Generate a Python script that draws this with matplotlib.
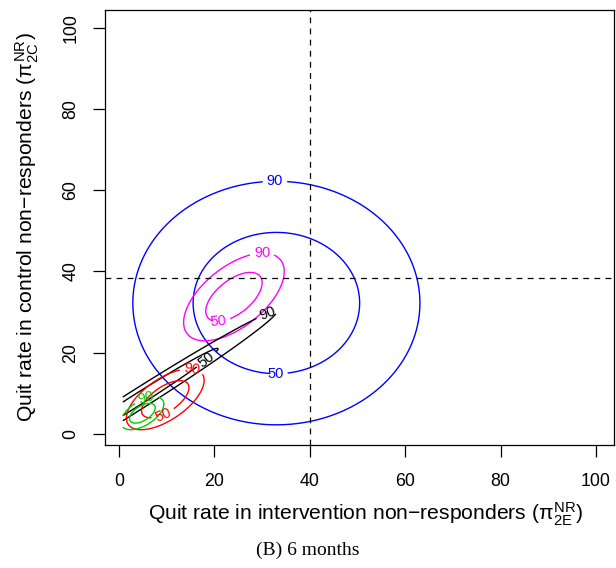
import numpy as np
import matplotlib
matplotlib.use("Agg")
import matplotlib.pyplot as plt

plt.rcParams['font.family'] = ['Liberation Sans', 'DejaVu Sans']
plt.rcParams['mathtext.fontset'] = 'custom'
plt.rcParams['mathtext.rm'] = 'Liberation Sans'
plt.rcParams['mathtext.it'] = 'Liberation Sans'
plt.rcParams['mathtext.bf'] = 'Liberation Sans:bold'
plt.rcParams['lines.scale_dashes'] = False

# ---- data ----
groups = ["blue", "magenta", "black", "red", "green"]
colors = ["#0000FF", "#FF00FF", "#000000", "#FF0000", "#00CD00"]
center_x = [33.0, 24.1, 3.8, 9.7, 4.9]
center_y = [32.2, 33.7, 8.35, 8.5, 5.05]
spread_x = [30.1, 10.55, 29.3, 8.15, 4.5]    # half-extent of 90% region
spread_y = [30.0, 10.8, 21.9, 7.5, 4.05]
corr = [0.0, 0.58, 0.991, 0.62, 0.55]
ratio50 = [0.58, 0.56, 0.58, 0.61, 0.60]     # size of 50% region relative to 90%
label_pos = [
    [(32.7, 62.0), (32.8, 14.5)],
    [(30.0, 44.1), (20.8, 29.0)],
    [(31.3, 29.3), (18.0, 18.8)],
    [(15.2, 14.9), (9.2, 4.9)],
    [(5.8, 8.1)],
]
ref_x = 40
ref_y = 38.4
ticks = [0, 20, 40, 60, 80, 100]
xlabel_txt = "Quit rate in intervention non\u2212responders ($\\pi^{\\mathrm{NR}}_{\\mathrm{2E}}$)"
ylabel_txt = "Quit rate in control non\u2212responders ($\\pi^{\\mathrm{NR}}_{\\mathrm{2C}}$)"
title_txt = "(B) 6 months"

W, H = 616, 568
fig = plt.figure(figsize=(W / 100, H / 100), dpi=100)
L, R, T, B = 104.7, 614.0, 10.0, 444.7
ax = fig.add_axes([L / W, 1 - B / H, (R - L) / W, (B - T) / H])
ax.set_xlim(-3.0, 103.8)
ax.set_ylim(-2.7, 104.4)

gx = np.linspace(0.8, 100, 700)
gy = np.linspace(0.8, 100, 700)
X, Y = np.meshgrid(gx, gy)

for i in range(len(groups)):
    zx = (X - center_x[i]) / spread_x[i]
    zy = (Y - center_y[i]) / spread_y[i]
    r = corr[i]
    D = np.sqrt((zx ** 2 - 2 * r * zx * zy + zy ** 2) / (1 - r ** 2))
    levels = [ratio50[i], 1.0]
    cs = ax.contour(X, Y, D, levels=levels, colors=colors[i], linewidths=1.0)
    fmt = {levels[0]: "50", levels[1]: "90"}
    ax.clabel(cs, levels=levels, fmt=fmt, manual=label_pos[i], inline=True,
              fontsize=10.5, inline_spacing=4)

ax.axvline(ref_x, color="black", lw=0.9, dashes=(4.2, 3.8))
ax.axhline(ref_y, color="black", lw=0.9, dashes=(4.2, 3.8))

ax.set_xticks(ticks)
ax.set_yticks(ticks)
ax.tick_params(axis="both", length=8.9, width=0.9, labelsize=12.8, direction="out")
ax.tick_params(axis="x", pad=11.3)
ax.tick_params(axis="y", pad=9.5)
for lab in ax.get_yticklabels():
    lab.set_rotation(90)
    lab.set_va("center")
for s in ax.spines.values():
    s.set_linewidth(0.9)

fig.text(366 / W, 1 - 520.5 / H, xlabel_txt, ha="center", va="baseline", fontsize=15.2)
fig.text(33.0 / W, 1 - (T + B) / 2 / H, ylabel_txt, ha="center", va="baseline",
         rotation=90, rotation_mode="anchor", fontsize=15.2)
fig.text(0.5, 1 - 555 / H, title_txt, ha="center", va="baseline", fontsize=14,
         family="Liberation Serif")

fig.savefig("out.png", dpi=100)
